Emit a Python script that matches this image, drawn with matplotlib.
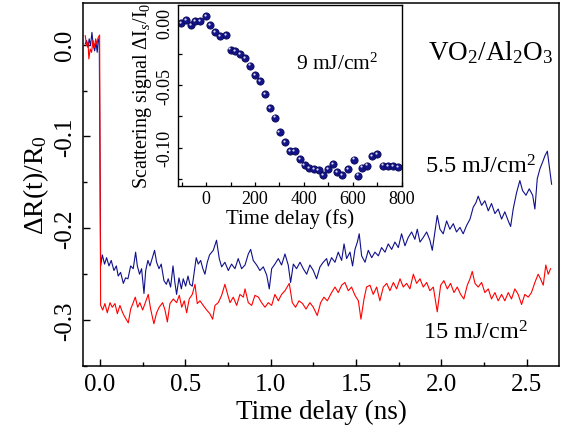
import matplotlib
matplotlib.use('Agg')
import matplotlib.pyplot as plt
from matplotlib.ticker import MultipleLocator, FormatStrFormatter
from matplotlib.transforms import offset_copy

plt.rcParams['font.family'] = ['Liberation Serif', 'DejaVu Serif']
plt.rcParams['mathtext.fontset'] = 'custom'
plt.rcParams['mathtext.rm'] = 'Liberation Serif'
plt.rcParams['mathtext.it'] = 'Liberation Serif:italic'
plt.rcParams['axes.unicode_minus'] = False

# --- 5.5 mJ/cm2 trace (ns, dR/R0) ---
blue_t = [-0.086, -0.078, -0.070, -0.063, -0.055, -0.047, -0.039, -0.031, -0.023, -0.016, -0.010, -0.004,
          0.004, 0.014, 0.027, 0.039, 0.053, 0.066, 0.082, 0.096, 0.107, 0.121, 0.137, 0.150, 0.164, 0.180,
          0.195, 0.209, 0.219, 0.232, 0.244, 0.258, 0.268, 0.281, 0.293, 0.307, 0.320, 0.332, 0.346, 0.359,
          0.375, 0.389, 0.400, 0.414, 0.428, 0.439, 0.449, 0.463, 0.477, 0.488, 0.502, 0.516, 0.527, 0.541,
          0.555, 0.564, 0.576, 0.590, 0.603, 0.615, 0.629, 0.642, 0.664, 0.683, 0.699, 0.713, 0.732, 0.752,
          0.771, 0.791, 0.810, 0.830, 0.850, 0.869, 0.883, 0.898, 0.918, 0.937, 0.957, 0.977, 0.992, 1.006,
          1.025, 1.045, 1.064, 1.084, 1.103, 1.117, 1.133, 1.152, 1.172, 1.191, 1.211, 1.230, 1.250, 1.269,
          1.289, 1.308, 1.328, 1.338, 1.357, 1.377, 1.396, 1.416, 1.430, 1.445, 1.465, 1.480, 1.494, 1.508,
          1.519, 1.533, 1.553, 1.572, 1.592, 1.611, 1.631, 1.650, 1.670, 1.689, 1.709, 1.728, 1.748, 1.767,
          1.787, 1.806, 1.826, 1.845, 1.859, 1.875, 1.894, 1.914, 1.933, 1.947, 1.963, 1.976, 1.992, 2.011,
          2.031, 2.050, 2.070, 2.089, 2.109, 2.128, 2.148, 2.168, 2.187, 2.203, 2.216, 2.236, 2.255, 2.275,
          2.294, 2.314, 2.333, 2.353, 2.372, 2.392, 2.406, 2.421, 2.441, 2.460, 2.476, 2.496, 2.515, 2.535,
          2.548, 2.562, 2.578, 2.593, 2.607, 2.621, 2.632, 2.646]
blue_r = [0.001, 0.0046, -0.003, 0.0064, -0.001, 0.0134, -0.001, -0.0067, 0.0025, -0.0083, 0.0064, 0.0025,
          -0.241, -0.229, -0.239, -0.232, -0.241, -0.235, -0.246, -0.241, -0.252, -0.248, -0.260, -0.254,
          -0.255, -0.241, -0.244, -0.226, -0.241, -0.250, -0.244, -0.271, -0.246, -0.235, -0.241, -0.232,
          -0.224, -0.237, -0.244, -0.239, -0.257, -0.261, -0.255, -0.264, -0.241, -0.259, -0.272, -0.254,
          -0.266, -0.255, -0.263, -0.252, -0.261, -0.263, -0.244, -0.232, -0.239, -0.235, -0.244, -0.250,
          -0.237, -0.229, -0.224, -0.213, -0.233, -0.242, -0.237, -0.246, -0.239, -0.244, -0.233, -0.244,
          -0.240, -0.228, -0.223, -0.235, -0.240, -0.246, -0.242, -0.251, -0.266, -0.244, -0.239, -0.233,
          -0.240, -0.228, -0.240, -0.259, -0.239, -0.244, -0.237, -0.244, -0.250, -0.240, -0.246, -0.255,
          -0.242, -0.237, -0.233, -0.241, -0.232, -0.237, -0.226, -0.235, -0.217, -0.233, -0.226, -0.241,
          -0.223, -0.215, -0.206, -0.230, -0.237, -0.224, -0.232, -0.226, -0.230, -0.221, -0.226, -0.217,
          -0.223, -0.215, -0.221, -0.206, -0.219, -0.210, -0.204, -0.212, -0.201, -0.215, -0.210, -0.204,
          -0.213, -0.224, -0.203, -0.186, -0.201, -0.206, -0.192, -0.201, -0.195, -0.204, -0.199, -0.206,
          -0.197, -0.190, -0.177, -0.172, -0.165, -0.175, -0.170, -0.181, -0.173, -0.184, -0.179, -0.190,
          -0.182, -0.192, -0.198, -0.179, -0.161, -0.148, -0.159, -0.164, -0.157, -0.164, -0.179, -0.146,
          -0.135, -0.128, -0.121, -0.116, -0.132, -0.152]

# --- 15 mJ/cm2 trace (ns, dR/R0) ---
red_t = [-0.086, -0.078, -0.070, -0.065, -0.057, -0.049, -0.041, -0.033, -0.025, -0.018, -0.010, -0.002,
         0.004, 0.016, 0.029, 0.043, 0.059, 0.072, 0.088, 0.102, 0.117, 0.133, 0.147, 0.166, 0.180, 0.195,
         0.207, 0.221, 0.234, 0.250, 0.264, 0.283, 0.297, 0.316, 0.332, 0.347, 0.367, 0.381, 0.395, 0.410,
         0.430, 0.449, 0.465, 0.479, 0.494, 0.508, 0.523, 0.541, 0.557, 0.570, 0.586, 0.605, 0.625, 0.644,
         0.660, 0.674, 0.693, 0.713, 0.732, 0.748, 0.762, 0.781, 0.801, 0.820, 0.840, 0.850, 0.869, 0.889,
         0.908, 0.928, 0.947, 0.967, 0.986, 1.006, 1.025, 1.045, 1.064, 1.084, 1.109, 1.127, 1.146, 1.166,
         1.187, 1.207, 1.230, 1.250, 1.273, 1.293, 1.312, 1.332, 1.357, 1.377, 1.396, 1.416, 1.435, 1.455,
         1.474, 1.494, 1.514, 1.529, 1.547, 1.562, 1.582, 1.601, 1.621, 1.640, 1.660, 1.680, 1.699, 1.719,
         1.738, 1.758, 1.777, 1.797, 1.816, 1.836, 1.855, 1.875, 1.894, 1.914, 1.933, 1.953, 1.976, 1.996,
         2.015, 2.035, 2.054, 2.074, 2.093, 2.113, 2.132, 2.152, 2.168, 2.181, 2.197, 2.216, 2.236, 2.255,
         2.275, 2.294, 2.314, 2.333, 2.353, 2.372, 2.392, 2.411, 2.431, 2.450, 2.470, 2.489, 2.509, 2.528,
         2.548, 2.567, 2.581, 2.597, 2.612, 2.626, 2.640]
red_r = [0.0098, -0.001, 0.0025, -0.0155, -0.0047, -0.0083, 0.0046, -0.003, 0.0064, 0.0007, 0.008, 0.0105,
         -0.284, -0.289, -0.282, -0.292, -0.281, -0.286, -0.282, -0.293, -0.284, -0.292, -0.297, -0.303,
         -0.288, -0.281, -0.275, -0.286, -0.281, -0.289, -0.282, -0.272, -0.288, -0.304, -0.292, -0.286,
         -0.281, -0.289, -0.302, -0.282, -0.277, -0.281, -0.273, -0.286, -0.279, -0.292, -0.277, -0.272,
         -0.261, -0.282, -0.279, -0.284, -0.289, -0.293, -0.299, -0.284, -0.281, -0.273, -0.261, -0.272,
         -0.281, -0.275, -0.284, -0.272, -0.275, -0.266, -0.281, -0.284, -0.273, -0.275, -0.281, -0.286,
         -0.281, -0.284, -0.272, -0.279, -0.272, -0.268, -0.260, -0.281, -0.286, -0.279, -0.282, -0.288,
         -0.281, -0.286, -0.295, -0.281, -0.275, -0.279, -0.270, -0.264, -0.270, -0.262, -0.259, -0.268,
         -0.264, -0.273, -0.279, -0.299, -0.277, -0.264, -0.262, -0.272, -0.264, -0.279, -0.264, -0.260,
         -0.268, -0.259, -0.266, -0.255, -0.264, -0.260, -0.266, -0.250, -0.260, -0.255, -0.264, -0.259,
         -0.268, -0.264, -0.291, -0.262, -0.257, -0.266, -0.260, -0.270, -0.264, -0.272, -0.277, -0.262,
         -0.255, -0.247, -0.260, -0.264, -0.259, -0.270, -0.266, -0.277, -0.270, -0.279, -0.272, -0.279,
         -0.270, -0.277, -0.266, -0.272, -0.283, -0.272, -0.275, -0.270, -0.259, -0.250, -0.255, -0.262,
         -0.240, -0.250, -0.244]

# --- inset: scattering signal at 9 mJ/cm2 (fs, dI_s/I_0) ---
inset_t = [-103, -82, -62, -44, -23, 0, 18, 38, 59, 82, 100, 120, 140, 160, 181, 201, 222, 241, 263, 281,
           301, 322, 342, 362, 383, 403, 422, 440, 460, 478, 499, 518, 537, 556, 581, 604, 621, 638, 659,
           679, 700, 723, 744, 764, 786]
inset_s = [-0.0005, 0.0022, -0.002, 0.0009, 0.0014, 0.0054, -0.002, -0.0074, -0.011, -0.010, -0.0217,
           -0.0226, -0.025, -0.0284, -0.0345, -0.042, -0.047, -0.057, -0.0686, -0.076, -0.0878, -0.0958,
           -0.103, -0.103, -0.109, -0.114, -0.1163, -0.117, -0.118, -0.122, -0.117, -0.113, -0.1197, -0.122,
           -0.117, -0.1096, -0.1224, -0.116, -0.1144, -0.107, -0.105, -0.1144, -0.115, -0.115, -0.1155]

navy = '#10108c'

fig = plt.figure(figsize=(5.63, 4.31), dpi=100)
ax = fig.add_axes([0.1469, 0.1485, 0.8465, 0.8422])
ax.plot(blue_t, blue_r, color=navy, lw=0.8)
ax.plot(red_t, red_r, color='#ff0000', lw=0.8)
ax.set_xlim(-0.101, 2.691)
ax.set_ylim(-0.35, 0.0454)
ax.xaxis.set_major_locator(MultipleLocator(0.5))
ax.xaxis.set_minor_locator(MultipleLocator(0.25))
ax.yaxis.set_major_locator(MultipleLocator(0.1))
ax.yaxis.set_minor_locator(MultipleLocator(0.05))
ax.xaxis.set_major_formatter(FormatStrFormatter('%.1f'))
ax.yaxis.set_major_formatter(FormatStrFormatter('%.1f'))
ax.tick_params(which='both', direction='in', top=False, right=False, width=1.0)
ax.tick_params(which='major', length=5, labelsize=18)
ax.tick_params(which='minor', length=3)
ax.tick_params(axis='y', labelrotation=90, pad=5)
ax.tick_params(axis='x', pad=5)
for lab in ax.get_yticklabels():
    lab.set_va('center')
for sp in ax.spines.values():
    sp.set_linewidth(1.1)
ax.set_xlabel('Time delay (ns)', fontsize=19.5, labelpad=3)
ax.set_ylabel(r'$\Delta$R(t)/R$_0$', fontsize=20, labelpad=2)

ax.text(0.7236, 0.846, r'VO$_2$/Al$_2$O$_3$', transform=ax.transAxes, fontsize=19.5, va='baseline')
ax.text(0.718, 0.5336, r'5.5 mJ/cm$^2$', transform=ax.transAxes, fontsize=17.5, va='baseline')
ax.text(0.715, 0.0744, r'15 mJ/cm$^2$', transform=ax.transAxes, fontsize=17.5, va='baseline')

# inset
ins = fig.add_axes([0.3156, 0.5668, 0.3989, 0.4200])
ins.plot(inset_t, inset_s, 'o', ms=5.2, color='#14148a', mec='#0a0a55', mew=0.6)
hl = offset_copy(ins.transData, fig=fig, x=-1.2, y=1.2, units='dots')
ins.plot(inset_t, inset_s, 'o', ms=1.6, color='#d8d8f4', mew=0, transform=hl)
ins.set_xlim(-116, 802)
ins.set_ylim(-0.1304, 0.0142)
ins.xaxis.set_major_locator(MultipleLocator(200))
ins.xaxis.set_minor_locator(MultipleLocator(100))
ins.yaxis.set_major_locator(MultipleLocator(0.05))
ins.yaxis.set_minor_locator(MultipleLocator(0.025))
ins.yaxis.set_major_formatter(FormatStrFormatter('%.2f'))
ins.tick_params(which='both', direction='in', top=False, right=False, length=3, width=0.9, labelsize=13)
ins.tick_params(axis='y', labelrotation=90, pad=3)
ins.tick_params(axis='x', pad=3)
for lab in ins.get_yticklabels():
    lab.set_va('center')
for sp in ins.spines.values():
    sp.set_linewidth(1.0)
ins.set_xlabel('Time delay (fs)', fontsize=15, labelpad=1)
ins.set_ylabel(r'Scattering signal $\Delta$I$_s$/I$_0$', fontsize=14.5, labelpad=2)
ins.text(0.528, 0.648, r'9 mJ/cm$^2$', transform=ins.transAxes, fontsize=15.5, va='baseline')

fig.savefig('out.png', dpi=100)
